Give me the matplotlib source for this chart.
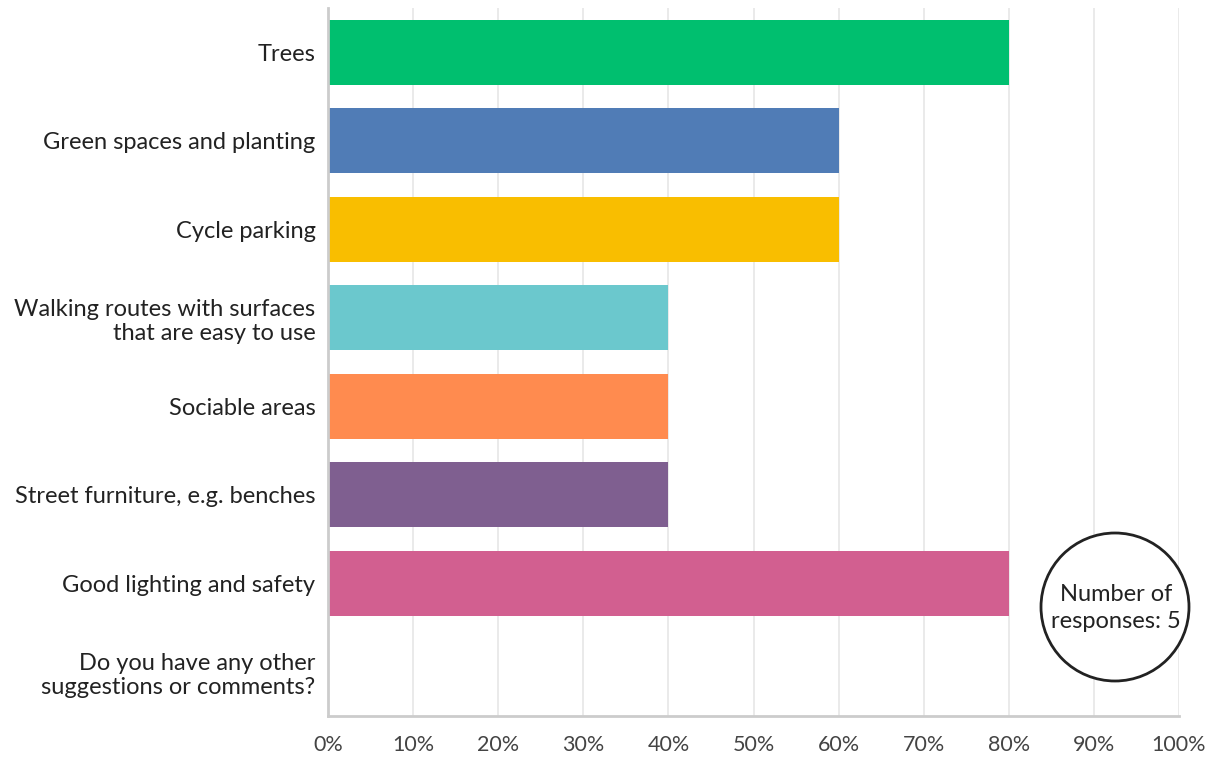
import matplotlib
matplotlib.use("Agg")
import matplotlib.pyplot as plt
from matplotlib.patches import Circle

categories = [
    "Trees",
    "Green spaces and planting",
    "Cycle parking",
    "Walking routes with surfaces\nthat are easy to use",
    "Sociable areas",
    "Street furniture, e.g. benches",
    "Good lighting and safety",
    "Do you have any other\nsuggestions or comments?",
]
percentages = [80, 60, 60, 40, 40, 40, 80, 0]
colors = ["#00BF6F", "#507CB6", "#F9BE00", "#6BC8CD",
          "#FF8B4F", "#7F5F90", "#D25F90", "#AAAAAA"]
x_ticks = [0, 10, 20, 30, 40, 50, 60, 70, 80, 90, 100]
x_tick_labels = [f"{t}%" for t in x_ticks]
response_count = 5

plt.rcParams["font.family"] = ["Lato", "DejaVu Sans"]

fig = plt.figure(figsize=(12.12, 7.6), dpi=100)
ax = fig.add_axes([328 / 1212, 44 / 760, 851 / 1212, 708 / 760])

ypos = list(range(len(categories)))
ax.barh(ypos, percentages, height=0.74, color=colors, zorder=3)

ax.set_ylim(len(categories) - 0.5, -0.5)
ax.set_xlim(0, 100)
ax.set_yticks(ypos)
ax.set_yticklabels(categories, fontsize=17, color="#222222",
                   linespacing=1.2)
ax.set_xticks(x_ticks)
ax.set_xticklabels(x_tick_labels, fontsize=15.5, color="#444444")
ax.tick_params(axis="y", length=0, pad=9)
ax.tick_params(axis="x", length=0, pad=14)

ax.grid(axis="x", color="#E6E6E6", linewidth=1.2, zorder=0)
for side in ("top", "right"):
    ax.spines[side].set_visible(False)
ax.spines["left"].set_color("#CCCCCC")
ax.spines["left"].set_linewidth(2)
ax.spines["bottom"].set_color("#CCCCCC")
ax.spines["bottom"].set_linewidth(2)
ax.spines["left"].set_zorder(4)

# Badge with the total number of responses
badge = Circle((11.15, 1.53), 0.74, transform=fig.dpi_scale_trans,
               facecolor="white", edgecolor="#222222", linewidth=2, zorder=10)
fig.patches.append(badge)
fig.text(11.16 / 12.12, 1.52 / 7.6, f"Number of\nresponses: {response_count}",
         ha="center", va="center", fontsize=17, color="#222222",
         linespacing=1.3, zorder=11)

fig.savefig("out.png", dpi=100, facecolor="white")
